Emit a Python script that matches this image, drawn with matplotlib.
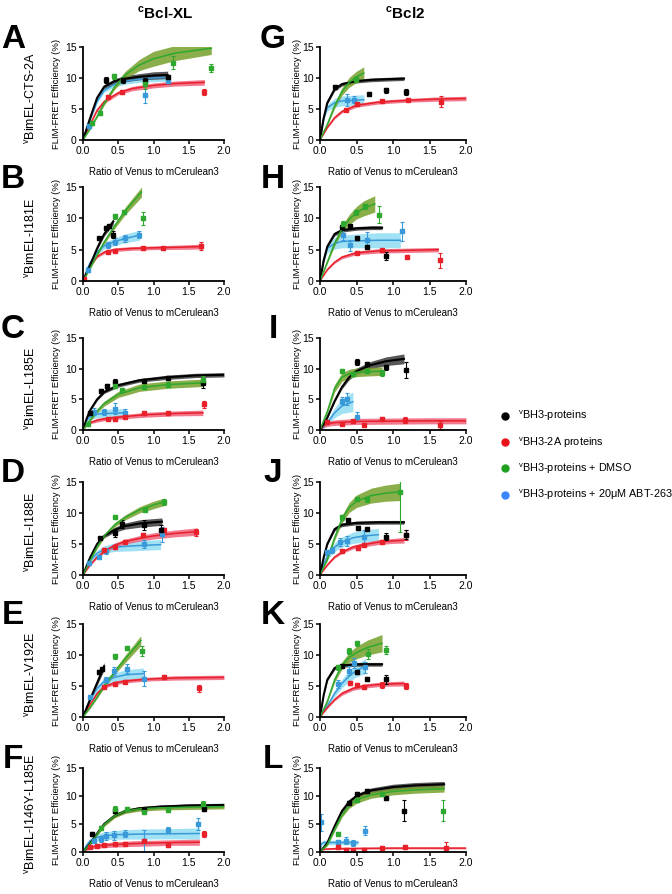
import matplotlib.pyplot as plt
from matplotlib.lines import Line2D

plt.rcParams['font.family'] = ['Liberation Sans', 'DejaVu Sans']
plt.rcParams['mathtext.fontset'] = 'custom'
plt.rcParams['mathtext.rm'] = 'Liberation Sans'
plt.rcParams['mathtext.bf'] = 'Liberation Sans:bold'

# fitted curves: colour -> (x, y, band half-width); points: colour -> [(x, y, sem)]
A_fit = {
    'c': ([0, 0.1, 0.2, 0.3, 0.45, 0.6, 0.8, 1.0, 1.2], [0, 3.2, 6.2, 8.0, 9.0, 9.5, 9.8, 10.0, 10.1], [0, 0.1, 0.2, 0.3, 0.4, 0.5, 0.5, 0.6, 0.6]),
    'r': ([0, 0.1, 0.2, 0.3, 0.5, 0.7, 1.0, 1.3, 1.72], [0, 2.5, 4.8, 6.2, 7.6, 8.3, 8.8, 9.1, 9.3], [0, 0.1, 0.2, 0.3, 0.3, 0.35, 0.4, 0.4, 0.45]),
    'k': ([0, 0.1, 0.2, 0.3, 0.45, 0.6, 0.8, 1.0, 1.2], [0, 3.5, 6.8, 8.6, 9.5, 9.9, 10.2, 10.4, 10.5], [0, 0.1, 0.2, 0.3, 0.4, 0.5, 0.5, 0.6, 0.6]),
    'g': ([0, 0.1, 0.2, 0.3, 0.45, 0.6, 0.8, 1.0, 1.3, 1.82], [0, 1.8, 3.8, 5.9, 8.6, 10.5, 12.1, 13.1, 14.0, 14.8], [0, 0.1, 0.2, 0.3, 0.4, 0.6, 0.9, 1.2, 1.2, 1.0]),
}
A_pts = {
    'c': [(0.08, 2.3, 0.3), (0.88, 7.3, 1.4), (1.2, 9.5, 0.4)],
    'r': [(0.35, 7.0, 0.3), (0.55, 7.8, 0.3), (1.72, 7.8, 0.5)],
    'k': [(0.33, 9.7, 0.5), (0.57, 9.6, 0.4), (0.88, 9.5, 0.5), (1.2, 10.1, 0.4)],
    'g': [(0.13, 2.7, 0.3), (0.24, 4.3, 0.3), (0.44, 10.3, 0.4), (0.88, 9.0, 0.8), (1.27, 12.5, 1.1), (1.82, 11.6, 0.6)],
}

G_fit = {
    'c': ([0, 0.05, 0.1, 0.2, 0.3, 0.45, 0.6], [0, 3.5, 5.2, 6.0, 6.3, 6.4, 6.5], [0, 0.3, 0.5, 0.7, 0.8, 0.8, 0.8]),
    'r': ([0, 0.1, 0.2, 0.3, 0.5, 0.8, 1.2, 1.6, 2.0], [0, 2.0, 3.6, 4.6, 5.6, 6.1, 6.4, 6.6, 6.7], [0, 0.1, 0.2, 0.25, 0.3, 0.3, 0.3, 0.35, 0.35]),
    'k': ([0, 0.05, 0.1, 0.2, 0.3, 0.5, 0.7, 0.9, 1.15], [0, 3.5, 6.0, 8.2, 9.0, 9.5, 9.7, 9.8, 9.9], [0, 0.1, 0.2, 0.3, 0.3, 0.3, 0.3, 0.3, 0.3]),
    'g': ([0, 0.1, 0.2, 0.3, 0.4, 0.5, 0.6], [0, 2.5, 5.5, 7.8, 9.3, 10.2, 10.8], [0, 0.2, 0.4, 0.6, 0.8, 0.9, 1.0]),
}
G_pts = {
    'c': [(0.37, 6.5, 1.0), (0.47, 6.5, 0.6)],
    'r': [(0.35, 4.8, 0.2), (0.5, 5.8, 0.2), (0.85, 6.3, 0.2), (1.2, 6.5, 0.2), (1.66, 6.2, 0.9)],
    'k': [(0.2, 8.5, 0.3), (0.67, 7.4, 0.3), (0.9, 8.0, 0.4), (1.18, 7.7, 0.5)],
    'g': [(0.49, 9.8, 0.4)],
}

B_fit = {
    'c': ([0, 0.05, 0.1, 0.2, 0.3, 0.45, 0.6, 0.8], [0, 1.6, 2.9, 4.6, 5.6, 6.3, 6.8, 7.3], [0, 0.2, 0.3, 0.4, 0.5, 0.6, 0.7, 0.8]),
    'r': ([0, 0.05, 0.1, 0.2, 0.3, 0.45, 0.7, 1.0, 1.4, 1.7], [0, 1.2, 2.4, 3.9, 4.6, 5.0, 5.2, 5.3, 5.4, 5.5], [0, 0.1, 0.15, 0.2, 0.25, 0.3, 0.3, 0.3, 0.35, 0.4]),
    'k': ([0, 0.1, 0.2, 0.3, 0.43], [0, 2.5, 5.2, 7.5, 9.5], [0, 0.1, 0.2, 0.35, 0.5]),
    'g': ([0, 0.1, 0.2, 0.3, 0.45, 0.6, 0.83], [0, 2.0, 4.2, 6.2, 8.8, 11.2, 14.2], [0, 0.1, 0.2, 0.3, 0.4, 0.6, 0.8]),
}
B_pts = {
    'c': [(0.07, 1.8, 0.4), (0.35, 5.7, 0.5), (0.45, 6.3, 0.6), (0.6, 6.8, 0.5), (0.8, 7.4, 0.5)],
    'r': [(0.02, 0.3, 0.1), (0.35, 4.7, 0.2), (0.45, 4.8, 0.2), (0.85, 5.2, 0.3), (1.14, 5.2, 0.3), (1.68, 5.6, 0.6)],
    'k': [(0.22, 6.8, 0.2), (0.33, 8.5, 0.3), (0.37, 8.7, 0.3), (0.43, 7.4, 0.5)],
    'g': [(0.45, 10.3, 0.4), (0.58, 11.0, 0.3), (0.85, 10.0, 1.0)],
}

H_fit = {
    'c': ([0, 0.05, 0.1, 0.2, 0.3, 0.5, 0.8, 1.1], [0, 3.5, 5.2, 6.0, 6.3, 6.4, 6.5, 6.5], [0, 0.4, 0.7, 0.9, 1.0, 1.1, 1.2, 1.2]),
    'r': ([0, 0.1, 0.2, 0.3, 0.5, 0.8, 1.2, 1.62], [0, 1.8, 3.0, 3.8, 4.5, 4.8, 4.9, 5.0], [0, 0.1, 0.2, 0.25, 0.3, 0.35, 0.35, 0.35]),
    'k': ([0, 0.05, 0.1, 0.2, 0.3, 0.5, 0.7, 0.85], [0, 3.2, 5.5, 7.5, 8.1, 8.4, 8.5, 8.5], [0, 0.1, 0.2, 0.3, 0.3, 0.3, 0.3, 0.3]),
    'g': ([0, 0.1, 0.2, 0.3, 0.4, 0.5, 0.6, 0.75], [0, 3.0, 6.0, 8.3, 9.8, 10.9, 11.6, 12.3], [0, 0.2, 0.4, 0.6, 0.8, 1.0, 1.2, 1.3]),
}
H_pts = {
    'c': [(0.32, 7.3, 0.8), (0.41, 5.7, 0.9), (0.64, 6.6, 1.2), (1.13, 7.9, 1.5)],
    'r': [(0.5, 4.5, 0.2), (0.85, 4.9, 0.2), (1.19, 3.9, 0.3), (1.65, 3.3, 1.2)],
    'k': [(0.3, 8.6, 0.3), (0.41, 8.7, 0.3), (0.5, 6.8, 0.3), (0.65, 5.5, 0.3), (0.9, 4.0, 0.6)],
    'g': [(0.31, 9.1, 0.5), (0.49, 11.0, 0.4), (0.62, 11.9, 0.4), (0.81, 10.6, 1.3)],
}

C_fit = {
    'c': ([0, 0.05, 0.1, 0.2, 0.35, 0.6], [0, 1.5, 2.2, 2.6, 2.7, 2.8], [0, 0.3, 0.5, 0.6, 0.7, 0.7]),
    'r': ([0, 0.05, 0.1, 0.2, 0.35, 0.6, 0.9, 1.3, 1.7], [0, 0.8, 1.2, 1.6, 1.9, 2.2, 2.5, 2.7, 2.8], [0, 0.1, 0.2, 0.3, 0.3, 0.35, 0.4, 0.4, 0.45]),
    'k': ([0, 0.05, 0.1, 0.2, 0.3, 0.5, 0.8, 1.2, 1.6, 2.0], [0, 1.8, 3.2, 5.0, 6.2, 7.3, 8.1, 8.6, 8.9, 9.0], [0, 0.1, 0.15, 0.2, 0.25, 0.3, 0.3, 0.35, 0.35, 0.35]),
    'g': ([0, 0.05, 0.1, 0.2, 0.3, 0.5, 0.8, 1.2, 1.7], [0, 0.8, 1.6, 3.1, 4.3, 5.8, 6.9, 7.4, 7.7], [0, 0.1, 0.2, 0.3, 0.4, 0.5, 0.6, 0.6, 0.6]),
}
C_pts = {
    'c': [(0.15, 3.0, 0.6), (0.3, 3.0, 0.5), (0.45, 3.5, 0.9), (0.6, 2.8, 0.6)],
    'r': [(0.35, 1.8, 0.2), (0.45, 1.8, 0.3), (0.6, 2.2, 0.2), (0.87, 2.7, 0.3), (1.2, 2.8, 0.3), (1.72, 4.2, 0.6)],
    'k': [(0.1, 2.8, 0.3), (0.25, 6.4, 0.3), (0.34, 7.1, 0.4), (0.45, 7.8, 0.5), (0.86, 8.0, 0.3), (1.2, 8.4, 0.3), (1.7, 7.6, 0.7)],
    'g': [(0.07, 1.0, 0.3), (0.45, 7.2, 0.4), (0.55, 6.5, 0.3), (0.87, 7.0, 0.3), (1.2, 7.4, 0.4), (1.7, 8.2, 0.6)],
}

I_fit = {
    'c': ([0, 0.05, 0.1, 0.2, 0.3, 0.45], [0, 0.5, 1.2, 2.8, 3.9, 4.6], [0, 0.2, 0.4, 0.8, 1.2, 1.6]),
    'r': ([0, 0.05, 0.1, 0.2, 0.5, 1.0, 1.5, 2.0], [0, 0.7, 1.0, 1.2, 1.4, 1.45, 1.5, 1.5], [0, 0.3, 0.4, 0.45, 0.5, 0.5, 0.5, 0.5]),
    'k': ([0, 0.1, 0.2, 0.3, 0.4, 0.5, 0.7, 0.9, 1.15], [0, 2.0, 4.7, 7.0, 8.6, 9.6, 10.6, 11.2, 11.6], [0, 0.1, 0.2, 0.3, 0.4, 0.5, 0.6, 0.7, 0.8]),
    'g': ([0, 0.1, 0.2, 0.3, 0.4, 0.5, 0.65, 0.85], [0, 3.0, 6.8, 8.6, 9.2, 9.4, 9.5, 9.6], [0, 0.3, 0.6, 0.7, 0.7, 0.7, 0.7, 0.7]),
}
I_pts = {
    'c': [(0.3, 4.8, 0.6), (0.37, 5.0, 1.0), (0.5, 2.2, 0.7)],
    'r': [(0.1, 1.3, 0.2), (0.3, 1.0, 0.2), (0.45, 1.5, 0.2), (0.6, 0.8, 0.2), (0.85, 1.8, 0.3), (1.17, 1.6, 0.5), (1.65, 0.8, 0.7)],
    'k': [(0.51, 11.1, 0.5), (0.65, 10.8, 0.3), (0.9, 10.2, 0.4), (1.18, 9.8, 1.3)],
    'g': [(0.3, 9.7, 0.3), (0.45, 9.2, 0.3), (0.65, 9.7, 0.3), (0.85, 9.3, 0.5)],
}

D_fit = {
    'c': ([0, 0.05, 0.1, 0.2, 0.3, 0.45, 0.7, 1.1], [0, 1.3, 2.3, 3.5, 4.1, 4.5, 4.7, 4.9], [0, 0.2, 0.3, 0.5, 0.6, 0.7, 0.8, 0.8]),
    'r': ([0, 0.1, 0.2, 0.3, 0.45, 0.6, 0.8, 1.0, 1.3, 1.62], [0, 1.6, 2.9, 3.8, 4.8, 5.4, 5.9, 6.3, 6.7, 7.0], [0, 0.1, 0.2, 0.3, 0.35, 0.4, 0.45, 0.5, 0.55, 0.6]),
    'k': ([0, 0.1, 0.2, 0.3, 0.45, 0.6, 0.8, 1.0, 1.12], [0, 2.8, 5.0, 6.3, 7.3, 7.9, 8.3, 8.5, 8.6], [0, 0.1, 0.2, 0.3, 0.4, 0.5, 0.6, 0.6, 0.6]),
    'g': ([0, 0.1, 0.2, 0.3, 0.45, 0.6, 0.8, 1.0, 1.15], [0, 2.3, 4.5, 6.3, 8.1, 9.3, 10.5, 11.3, 11.8], [0, 0.1, 0.2, 0.3, 0.35, 0.4, 0.5, 0.6, 0.6]),
}
D_pts = {
    'c': [(0.08, 2.0, 0.3), (0.23, 2.9, 0.3), (0.33, 3.8, 0.4), (0.87, 5.0, 0.6), (1.12, 6.6, 1.2)],
    'r': [(0.3, 4.0, 0.3), (0.45, 4.5, 0.3), (0.6, 5.4, 0.3), (0.85, 6.4, 0.3), (1.15, 7.2, 0.4), (1.6, 6.9, 0.6)],
    'k': [(0.24, 5.9, 0.3), (0.45, 6.7, 0.5), (0.55, 8.2, 0.6), (0.87, 8.0, 0.8), (1.11, 7.3, 0.7)],
    'g': [(0.45, 9.3, 0.3), (0.88, 10.5, 0.4), (1.15, 11.8, 0.5)],
}

J_fit = {
    'c': ([0, 0.05, 0.1, 0.2, 0.3, 0.45, 0.6, 0.8], [0, 1.8, 3.0, 4.5, 5.3, 6.0, 6.3, 6.5], [0, 0.3, 0.5, 0.7, 0.8, 0.9, 1.0, 1.0]),
    'r': ([0, 0.1, 0.2, 0.3, 0.45, 0.6, 0.8, 1.0, 1.15], [0, 1.6, 2.9, 3.7, 4.5, 4.9, 5.3, 5.5, 5.6], [0, 0.1, 0.2, 0.25, 0.3, 0.35, 0.4, 0.4, 0.45]),
    'k': ([0, 0.05, 0.1, 0.2, 0.3, 0.5, 0.8, 1.15], [0, 2.8, 5.0, 7.4, 8.1, 8.4, 8.5, 8.5], [0, 0.1, 0.2, 0.3, 0.3, 0.3, 0.3, 0.3]),
    'g': ([0, 0.1, 0.2, 0.3, 0.4, 0.5, 0.7, 0.9, 1.09], [0, 2.5, 6.0, 9.0, 10.9, 11.9, 12.8, 13.2, 13.4], [0, 0.2, 0.4, 0.6, 0.8, 1.0, 1.2, 1.3, 1.4]),
}
J_pts = {
    'c': [(0.1, 3.7, 0.4), (0.17, 4.0, 0.5), (0.27, 5.3, 0.7), (0.37, 5.5, 0.8), (0.6, 6.2, 1.0)],
    'r': [(0.3, 3.8, 0.3), (0.52, 4.3, 0.3), (0.6, 4.9, 0.3), (0.85, 5.3, 0.3), (1.18, 6.4, 0.8)],
    'k': [(0.39, 8.8, 0.3), (0.52, 7.6, 0.3), (0.64, 7.5, 0.3), (0.9, 6.2, 0.5), (1.18, 6.5, 0.7)],
    'g': [(0.3, 9.3, 0.4), (0.51, 12.3, 0.3), (0.65, 12.2, 0.4), (1.09, 13.4, 6.4)],
}

E_fit = {
    'c': ([0, 0.05, 0.1, 0.2, 0.3, 0.45, 0.6, 0.86], [0, 1.5, 2.8, 4.6, 5.7, 6.4, 6.8, 7.0], [0, 0.2, 0.3, 0.5, 0.6, 0.7, 0.8, 0.9]),
    'r': ([0, 0.1, 0.2, 0.3, 0.45, 0.6, 0.9, 1.3, 2.0], [0, 2.0, 3.8, 4.9, 5.5, 5.8, 6.1, 6.3, 6.4], [0, 0.1, 0.2, 0.25, 0.3, 0.3, 0.3, 0.35, 0.35]),
    'k': ([0, 0.1, 0.2, 0.3], [0, 2.8, 5.5, 8.2], [0, 0.2, 0.4, 0.6]),
    'g': ([0, 0.1, 0.2, 0.3, 0.45, 0.6, 0.82], [0, 1.5, 3.2, 5.0, 7.3, 9.4, 12.3], [0, 0.1, 0.2, 0.3, 0.4, 0.6, 0.8]),
}
E_pts = {
    'c': [(0.1, 3.2, 0.3), (0.33, 6.0, 0.5), (0.44, 7.4, 0.6), (0.63, 7.8, 0.7), (0.86, 6.2, 1.2)],
    'r': [(0.3, 4.9, 0.3), (0.45, 5.4, 0.2), (0.6, 5.7, 0.2), (1.15, 6.4, 0.3), (1.65, 4.6, 0.6)],
    'k': [(0.22, 7.3, 0.3), (0.27, 7.7, 0.3)],
    'g': [(0.45, 9.8, 0.4), (0.62, 11.1, 0.3), (0.83, 10.7, 0.8)],
}

K_fit = {
    'c': ([0, 0.1, 0.2, 0.3, 0.4, 0.5, 0.62], [0, 1.8, 3.8, 5.4, 6.6, 7.5, 8.2], [0, 0.3, 0.5, 0.7, 0.9, 1.0, 1.2]),
    'r': ([0, 0.1, 0.2, 0.3, 0.45, 0.6, 0.85, 1.15], [0, 1.5, 2.8, 3.8, 4.6, 5.0, 5.3, 5.4], [0, 0.1, 0.2, 0.3, 0.3, 0.35, 0.35, 0.4]),
    'k': ([0, 0.05, 0.1, 0.2, 0.3, 0.5, 0.7, 0.85], [0, 3.5, 6.0, 7.9, 8.3, 8.5, 8.5, 8.5], [0, 0.1, 0.2, 0.3, 0.3, 0.3, 0.3, 0.3]),
    'g': ([0, 0.1, 0.2, 0.3, 0.4, 0.5, 0.65, 0.85], [0, 2.5, 6.0, 8.3, 9.6, 10.4, 11.2, 11.9], [0, 0.2, 0.4, 0.6, 0.8, 1.0, 1.2, 1.4]),
}
K_pts = {
    'c': [(0.25, 5.3, 0.6), (0.4, 7.5, 0.7), (0.47, 8.7, 0.8), (0.62, 8.0, 0.9)],
    'r': [(0.41, 5.5, 0.3), (0.5, 5.2, 0.3), (0.6, 4.8, 0.3), (0.85, 5.2, 0.5), (1.18, 5.0, 0.5)],
    'k': [(0.3, 8.2, 0.3), (0.5, 7.2, 0.3), (0.64, 6.1, 0.3), (0.9, 6.1, 0.7)],
    'g': [(0.25, 8.0, 0.4), (0.4, 10.6, 0.5), (0.5, 11.9, 0.4), (0.66, 10.2, 0.8), (0.9, 10.8, 0.6)],
}

F_fit = {
    'c': ([0, 0.05, 0.1, 0.2, 0.3, 0.5, 0.8, 1.2, 1.65], [0, 1.2, 2.0, 2.6, 2.9, 3.1, 3.2, 3.25, 3.3], [0, 0.2, 0.4, 0.6, 0.7, 0.8, 0.9, 0.9, 1.0]),
    'r': ([0, 0.05, 0.1, 0.2, 0.4, 0.7, 1.0, 1.3, 1.65], [0, 0.5, 0.8, 1.1, 1.3, 1.5, 1.6, 1.7, 1.75], [0, 0.2, 0.3, 0.4, 0.45, 0.5, 0.5, 0.5, 0.55]),
    'k': ([0, 0.1, 0.2, 0.3, 0.45, 0.6, 0.8, 1.1, 1.5, 2.0], [0, 1.5, 3.3, 5.0, 6.5, 7.3, 7.8, 8.1, 8.3, 8.4], [0, 0.1, 0.15, 0.2, 0.25, 0.3, 0.3, 0.3, 0.3, 0.3]),
    'g': ([0, 0.1, 0.2, 0.3, 0.45, 0.6, 0.8, 1.1, 1.5, 2.0], [0, 1.4, 3.2, 4.9, 6.5, 7.3, 7.7, 7.9, 8.0, 8.1], [0, 0.2, 0.3, 0.35, 0.4, 0.4, 0.4, 0.4, 0.4, 0.4]),
}
F_pts = {
    'c': [(0.15, 2.0, 0.4), (0.25, 2.3, 0.5), (0.33, 2.9, 0.7), (0.44, 3.0, 0.8), (0.6, 3.3, 0.6), (0.87, 2.0, 2.0), (1.2, 4.0, 0.5), (1.63, 5.0, 1.1)],
    'r': [(0.1, 0.9, 0.2), (0.2, 1.1, 0.2), (0.3, 1.2, 0.2), (0.45, 1.4, 0.2), (0.6, 1.5, 0.2), (0.87, 2.0, 0.3), (1.2, 1.2, 0.3), (1.72, 3.2, 0.5)],
    'k': [(0.13, 3.2, 0.3), (0.45, 7.3, 0.3), (0.87, 7.5, 0.3), (1.72, 7.7, 0.4)],
    'g': [(0.25, 4.3, 0.4), (0.45, 7.7, 0.5), (0.62, 7.7, 0.4), (0.87, 7.2, 0.3), (1.2, 7.5, 0.3), (1.7, 8.5, 0.6)],
}

L_fit = {
    'c': ([0, 0.02, 0.05, 0.1, 0.2, 0.35, 0.52], [0, 1.5, 1.7, 1.7, 1.7, 1.7, 1.7], [0, 0.3, 0.4, 0.4, 0.4, 0.4, 0.4]),
    'r': ([0, 0.05, 0.2, 0.5, 1.0, 1.5, 2.0], [0, 0.5, 0.6, 0.65, 0.7, 0.7, 0.7], [0, 0.1, 0.15, 0.15, 0.15, 0.15, 0.15]),
    'k': ([0, 0.1, 0.2, 0.3, 0.4, 0.5, 0.7, 1.0, 1.3, 1.7], [0, 1.6, 4.6, 7.3, 9.0, 10.0, 11.0, 11.6, 11.9, 12.1], [0, 0.1, 0.2, 0.3, 0.35, 0.4, 0.45, 0.5, 0.5, 0.5]),
    'g': ([0, 0.1, 0.2, 0.3, 0.4, 0.5, 0.7, 1.0, 1.3, 1.7], [0, 1.3, 4.0, 6.6, 8.3, 9.3, 10.2, 10.8, 11.1, 11.3], [0, 0.2, 0.3, 0.4, 0.5, 0.6, 0.6, 0.6, 0.6, 0.6]),
}
L_pts = {
    'c': [(0.02, 5.3, 1.5), (0.25, 1.8, 0.4), (0.35, 2.0, 0.6), (0.45, 1.6, 0.6), (0.62, 3.8, 0.8)],
    'r': [(0.25, 0.9, 0.3), (0.35, 0.3, 0.2), (0.45, 0.2, 0.2), (0.6, 0.4, 0.2), (0.85, 0.8, 0.3), (1.17, 0.9, 0.4), (1.72, 0.7, 1.0)],
    'k': [(0.4, 8.8, 0.3), (0.51, 10.4, 0.3), (0.65, 10.9, 0.3), (0.9, 9.6, 0.3), (1.15, 7.4, 1.8)],
    'g': [(0.25, 3.3, 0.3), (0.5, 9.3, 0.3), (0.85, 10.3, 0.3), (1.69, 7.4, 1.8)],
}

left_panels = [('A', 'BimEL-CTS-2A', A_fit, A_pts), ('B', 'BimEL-I181E', B_fit, B_pts),
               ('C', 'BimEL-L185E', C_fit, C_pts), ('D', 'BimEL-I188E', D_fit, D_pts),
               ('E', 'BimEL-V192E', E_fit, E_pts), ('F', 'BimEL-I146Y-L185E', F_fit, F_pts)]
right_panels = [('G', G_fit, G_pts), ('H', H_fit, H_pts), ('I', I_fit, I_pts),
                ('J', J_fit, J_pts), ('K', K_fit, K_pts), ('L', L_fit, L_pts)]

legend_labels = ['BH3-proteins', 'BH3-2A proteins', 'BH3-proteins + DMSO', 'BH3-proteins + 20μM ABT-263']

line_col = {'k': '#000000', 'r': '#e8202a', 'g': '#2ea82e', 'c': '#3a9ad9'}
band_col = {'k': '#3a3a3a', 'r': '#f0607a', 'g': '#74a02a', 'c': '#8fdcf2'}
legend_col = ['#000000', '#e8121a', '#1fa01f', '#3a86ff']

W, H = 672, 894
rows_px = [(47, 140), (187, 281), (338, 430), (482, 575), (624, 717), (768, 852)]

fig = plt.figure(figsize=(W / 100, H / 100), dpi=100)


def draw(ax, fits, pts):
    for key in ['c', 'r', 'k', 'g']:
        xs, ys, ws = fits[key]
        lo = [y - w for y, w in zip(ys, ws)]
        hi = [y + w for y, w in zip(ys, ws)]
        ax.fill_between(xs, lo, hi, color=band_col[key], alpha=0.85, lw=0)
        ax.plot(xs, ys, color=line_col[key], lw=1.5 if key == 'k' else 1.1)
        px = [p[0] for p in pts[key]]
        py = [p[1] for p in pts[key]]
        pe = [p[2] for p in pts[key]]
        ax.errorbar(px, py, yerr=pe, fmt='s', ms=2.2, color=line_col[key],
                    elinewidth=0.8, capsize=1.5, capthick=0.8)
    ax.set_xlim(0, 2)
    ax.set_ylim(0, 15)
    ax.set_xticks([0, 0.5, 1.0, 1.5, 2.0])
    ax.set_xticklabels(['0.0', '0.5', '1.0', '1.5', '2.0'])
    ax.set_yticks([0, 5, 10, 15])
    for s in ['top', 'right']:
        ax.spines[s].set_visible(False)
    for s in ['left', 'bottom']:
        ax.spines[s].set_linewidth(1.3)
    ax.tick_params(direction='out', length=3, width=1.1, labelsize=7.5, pad=1.5)
    ax.set_xlabel('Ratio of Venus to mCerulean3', fontsize=7, labelpad=8)
    ax.set_ylabel('FLIM-FRET Efficiency (%)', fontsize=6.8)


for i, (top, bot) in enumerate(rows_px):
    rect_l = [83 / W, 1 - bot / H, 141 / W, (bot - top) / H]
    rect_r = [320 / W, 1 - bot / H, 146 / W, (bot - top) / H]

    letter, name, fits, pts = left_panels[i]
    ax = fig.add_axes(rect_l)
    draw(ax, fits, pts)
    ax.yaxis.set_label_coords(-0.155, 0.5)
    fig.text(13 / W, 1 - (top - 8) / H, letter, fontsize=24, fontweight='bold', ha='center', va='center')
    fig.text(31 / W, 1 - ((top + bot) / 2 + 4) / H, r'$^{\mathrm{v}}$' + name, fontsize=9,
             rotation=90, ha='center', va='center')

    letter, fits, pts = right_panels[i]
    ax = fig.add_axes(rect_r)
    draw(ax, fits, pts)
    ax.yaxis.set_label_coords(-0.12, 0.5)
    fig.text(273 / W, 1 - (top - 8) / H, letter, fontsize=24, fontweight='bold', ha='center', va='center')

fig.text(165 / W, 1 - 13 / H, r'$^{\mathbf{c}}$Bcl-XL', fontsize=11, fontweight='bold', ha='center', va='center')
fig.text(405 / W, 1 - 13 / H, r'$^{\mathbf{c}}$Bcl2', fontsize=11, fontweight='bold', ha='center', va='center')

handles = [Line2D([], [], ls='none', marker='o', ms=5, color=c) for c in legend_col]
fig.legend(handles, [r'$^{\mathrm{v}}$' + t for t in legend_labels], loc='upper left',
           bbox_to_anchor=(500 / W, 1 - 409 / H), frameon=False, fontsize=7.8,
           handlelength=1.0, handletextpad=0.7, labelspacing=1.1, borderpad=0, borderaxespad=0)

fig.savefig('out.png', dpi=100)
